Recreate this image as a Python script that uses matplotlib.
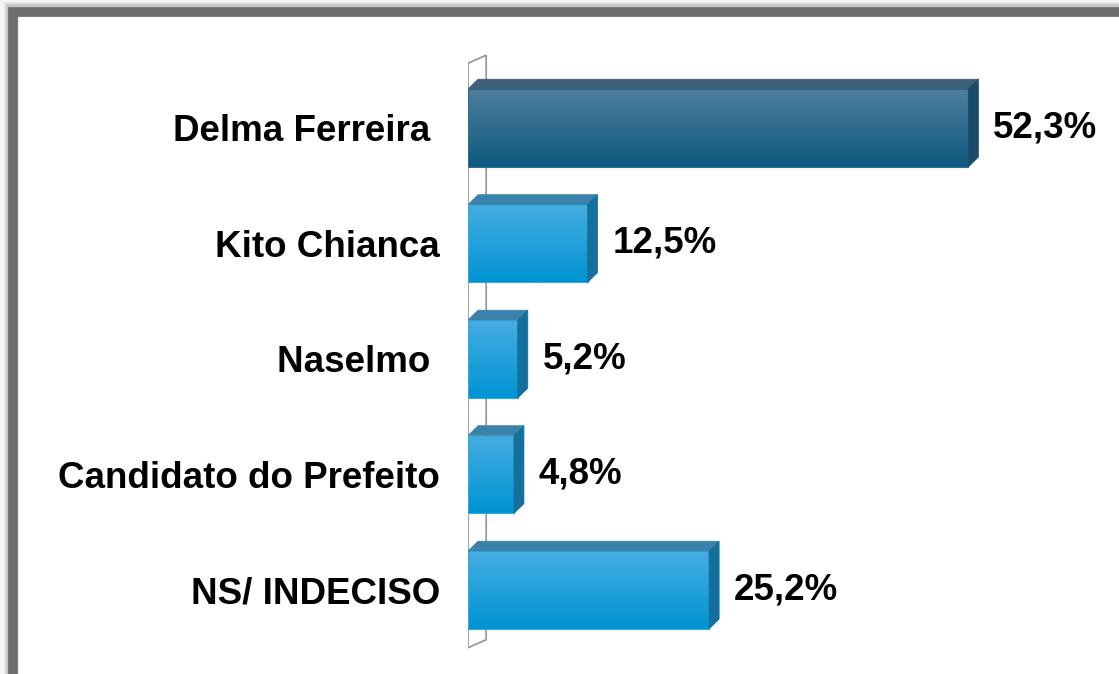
import numpy as np
import matplotlib.pyplot as plt
from matplotlib.patches import Polygon, Rectangle
from matplotlib.colors import LinearSegmentedColormap

# dados da pesquisa
candidatos = ["Delma Ferreira ", "Kito Chianca", "Naselmo ", "Candidato do Prefeito", "NS/ INDECISO"]
valores = [52.3, 12.5, 5.2, 4.8, 25.2]
rotulos = ["52,3%", "12,5%", "5,2%", "4,8%", "25,2%"]

# cores (frente topo/base, tampa, lateral)
cor_destaque = ("#4f7d9d", "#0d5a80", "#3e5f7a", "#1a4b69")
cor_normal = ("#46ade2", "#0094d2", "#3a82ab", "#136f9c")

plt.rcParams['font.family'] = ['Liberation Sans', 'DejaVu Sans']

fig = plt.figure(figsize=(11.19, 6.74), dpi=100)
W, H = 1119, 674

# moldura cinza com sombra
for k, a in [(18, 0.06), (15, 0.10), (12, 0.2)]:
    lw = k * 72 / 100
    fig.add_artist(Rectangle(((18 - k / 2) / W, -0.2), 1.5, (H - 16 + k / 2) / H + 0.2,
                             transform=fig.transFigure, fill=False, ec="#555555",
                             lw=lw, alpha=a, zorder=0))
fig.add_artist(Rectangle((13 / W, -0.2), 1.5, (H - 12) / H + 0.2,
                         transform=fig.transFigure, fill=False, ec="#6e6e6e",
                         lw=7, zorder=1))

ax = fig.add_axes([468 / W, 14 / H, 574 / W, 610 / H])
ax.set_facecolor("none")
for s in ax.spines.values():
    s.set_visible(False)

pos = np.arange(len(valores))
alt = 0.675
dx = 1.05   # profundidade em x (unidades de dado)
dy = 0.085  # profundidade em y

# parede de fundo
wx = 1.9
wy = 0.07
parede = Polygon([(0, 4.5), (0, -0.56), (wx, -0.56 - wy), (wx, 4.5 - wy)],
                 closed=True, fill=False, ec="#9a9a9a", lw=1.3, zorder=1)
ax.add_patch(parede)

barras = ax.barh(pos, valores, height=alt, color="none", zorder=3)

for i, b in enumerate(barras):
    cores = cor_destaque if i == 0 else cor_normal
    x0, y0 = b.get_x(), b.get_y()
    w, h = b.get_width(), b.get_height()
    y_top = y0
    y_bot = y0 + h
    cmap = LinearSegmentedColormap.from_list("g", [cores[0], cores[1]])
    grad = np.linspace(0, 1, 64).reshape(-1, 1)
    im = ax.imshow(grad, cmap=cmap, aspect="auto", origin="upper",
                   extent=(x0, x0 + w, y_bot, y_top), zorder=2)
    im.set_clip_path(b)
    b.set_edgecolor("#35a9de" if i else "#2b6f95")
    b.set_linewidth(0.8)
    # tampa
    tampa = Polygon([(x0, y_top), (x0 + dx, y_top - dy), (x0 + w + dx, y_top - dy), (x0 + w, y_top)],
                    closed=True, fc=cores[2], ec=cores[2], lw=0.5, zorder=3)
    ax.add_patch(tampa)
    # lateral
    lado = Polygon([(x0 + w, y_top), (x0 + w + dx, y_top - dy), (x0 + w + dx, y_bot - dy), (x0 + w, y_bot)],
                   closed=True, fc=cores[3], ec=cores[3], lw=0.5, zorder=3)
    ax.add_patch(lado)
    ax.annotate(rotulos[i], (w, pos[i]), xytext=(18, 0), textcoords="offset points",
                ha="left", va="center", fontsize=26.5, fontweight="bold", color="black")

ax.set_yticks(pos, labels=candidatos)
ax.tick_params(axis="y", length=0, pad=20, labelsize=26.5)
for t in ax.get_yticklabels():
    t.set_fontweight("bold")
ax.set_xticks([])
ax.set_xlim(0, 60)
ax.set_ylim(4.606, -0.675)

fig.savefig("out.png", dpi=100, facecolor="white")
